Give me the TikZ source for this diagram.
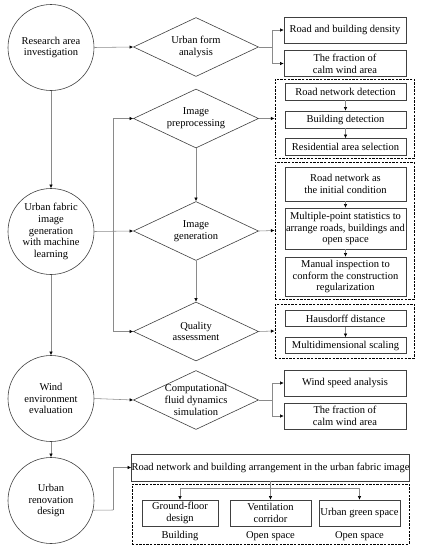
\documentclass[tikz,border=0pt]{standalone}
\usepackage{fontspec}
\setmainfont{Liberation Serif}
\usetikzlibrary{shapes.geometric,arrows.meta,calc}
\definecolor{outl}{HTML}{404040}
\definecolor{conncol}{HTML}{8A8A8A}
\tikzset{
  txt/.style={font=\fontsize{10.5pt}{11.8pt}\selectfont, align=center, inner sep=0pt},
  circ/.style={circle, draw=outl, line width=0.6pt, minimum size=86pt, inner sep=0pt, txt},
  dia/.style={diamond, draw=outl, line width=0.6pt, minimum width=125pt, minimum height=59pt, inner sep=0pt},
  box/.style={rectangle, draw=outl, line width=0.6pt, txt},
  grp/.style={rectangle, draw=black, line width=1pt, dash pattern=on 2.4pt off 1.2pt, inner sep=0pt},
  conn/.style={draw=conncol, line width=0.55pt, -{Latex[length=3.6pt,width=3.4pt,color=black]}},
  plain/.style={draw=conncol, line width=0.55pt},
}
\begin{document}
\begin{tikzpicture}[x=1pt,y=-1pt]
\useasboundingbox (0,0) rectangle (421,550);
% circles
\node[circ] (c1) at (51,47.5) {Research area\\investigation};
\node[circ] (c2) at (51,231.5) {Urban fabric\\image\\generation\\with machine\\learning};
\node[circ] (c3) at (51,398.5) {Wind\\environment\\evaluation};
\node[circ] (c4) at (51,500.5) {Urban\\renovation\\design};
% diamonds
\node[dia] (d1) at (196,47) {};
\node[txt] (d1t) at (d1) {Urban form\\analysis};
\node[dia] (d2) at (196,118.5) {};
\node[txt] (d2t) at (d2) {Image\\preprocessing};
\node[dia] (d3) at (196,231) {};
\node[txt] (d3t) at (d3) {Image\\generation};
\node[dia] (d4) at (196,331.5) {};
\node[txt] (d4t) at (d4) {Quality\\assessment};
\node[dia] (d5) at (196,400) {};
\node[txt] (d5t) at (d5) {Computational\\fluid dynamics\\simulation};
% urban form boxes
\node[box, minimum width=122pt, minimum height=26pt] (b1) at (345,30) {Road and building density};
\node[box, minimum width=122pt, minimum height=26pt] (b2) at (345,63.5) {The fraction of\\calm wind area};
% preprocessing group
\node[grp, minimum width=139pt, minimum height=79pt] (P) at (344.5,118.5) {};
\node[box, minimum width=121pt, minimum height=17pt] (p1) at (345.5,91.5) {Road network detection};
\node[box, minimum width=121pt, minimum height=17pt] (p2) at (345.5,119.5) {Building detection};
\node[box, minimum width=121pt, minimum height=17pt] (p3) at (345.5,147) {Residential area selection};
% generation group
\node[grp, minimum width=139pt, minimum height=137pt] (G) at (344.5,230.5) {};
\node[box, minimum width=121pt, minimum height=34pt] (g1) at (345.5,184) {Road network as\\the initial condition};
\node[box, minimum width=121pt, minimum height=41pt] (g2) at (345.5,228.5) {Multiple-point statistics to\\arrange roads, buildings and\\open space};
\node[box, minimum width=121pt, minimum height=39pt] (g3) at (345.5,276.5) {Manual inspection to\\conform the construction\\regularization};
% quality group
\node[grp, minimum width=139pt, minimum height=54pt] (Q) at (344.5,331) {};
\node[box, minimum width=121pt, minimum height=16pt] (q1) at (345.5,318.5) {Hausdorff distance};
\node[box, minimum width=121pt, minimum height=16pt] (q2) at (345.5,345.5) {Multidimensional scaling};
% CFD boxes
\node[box, minimum width=122pt, minimum height=26pt] (b3) at (345,383) {Wind speed analysis};
\node[box, minimum width=122pt, minimum height=26pt] (b4) at (345,416) {The fraction of\\calm wind area};
% bottom
\node[box, minimum width=277pt, minimum height=27pt] (W) at (270.5,467.5) {Road network and building arrangement in the urban fabric image};
\node[grp, minimum width=277pt, minimum height=60pt] (B) at (270.5,514) {};
\node[box, minimum width=76pt, minimum height=26pt] (i1) at (180,513) {Ground-floor\\design};
\node[box, minimum width=81pt, minimum height=26pt] (i2) at (270.5,513) {Ventilation\\corridor};
\node[box, minimum width=81pt, minimum height=26pt] (i3) at (359.5,513) {Urban green space};
\node[txt] (l1) at (180,536) {Building};
\node[txt] (l2) at (270.5,536) {Open space};
\node[txt] (l3) at (359.5,536) {Open space};
% coordinates
\coordinate (s1) at (272,47);
\coordinate (s2) at (113,231);
\coordinate (s5) at (272,400);
\coordinate (s6) at (113,510);
\coordinate (s7) at (270.5,488);
% connectors
\draw[conn] (c1.east) -- (d1.west);
\draw[plain] (d1.east) -- (s1);
\draw[conn] (s1) |- (b1.west);
\draw[conn] (s1) |- (b2.west);
\draw[conn] (c1.south) -- (c2.north);
\draw[conn] (c2.east) -- (d3.west);
\draw[conn] (s2) |- (d2.west);
\draw[conn] (s2) |- (d4.west);
\draw[conn] (d2.south) -- (d3.north);
\draw[conn] (d3.south) -- (d4.north);
\draw[conn] (d2.east) -- (P.west);
\draw[conn] (d3.east) -- (G.west);
\draw[conn] (d4.east) -- (Q.west);
\draw[conn] (p1.south) -- (p2.north);
\draw[conn] (p2.south) -- (p3.north);
\draw[conn] (g1.south) -- (g2.north);
\draw[conn] (g2.south) -- (g3.north);
\draw[conn] (q1.south) -- (q2.north);
\draw[conn] (c2.south) -- (c3.north);
\draw[conn] (c3.south) -- (c4.north);
\draw[conn] (c3.east) -- (d5.west);
\draw[plain] (d5.east) -- (s5);
\draw[conn] (s5) |- (b3.west);
\draw[conn] (s5) |- (b4.west);
\draw[plain] (c4.-13.4) -- (s6);
\draw[conn] (s6) |- (W.west);
\draw[conn] (W.south) -- (i2.north);
\draw[conn] (s7) -| (i1.north);
\draw[conn] (s7) -| (i3.north);
\end{tikzpicture}
\end{document}
